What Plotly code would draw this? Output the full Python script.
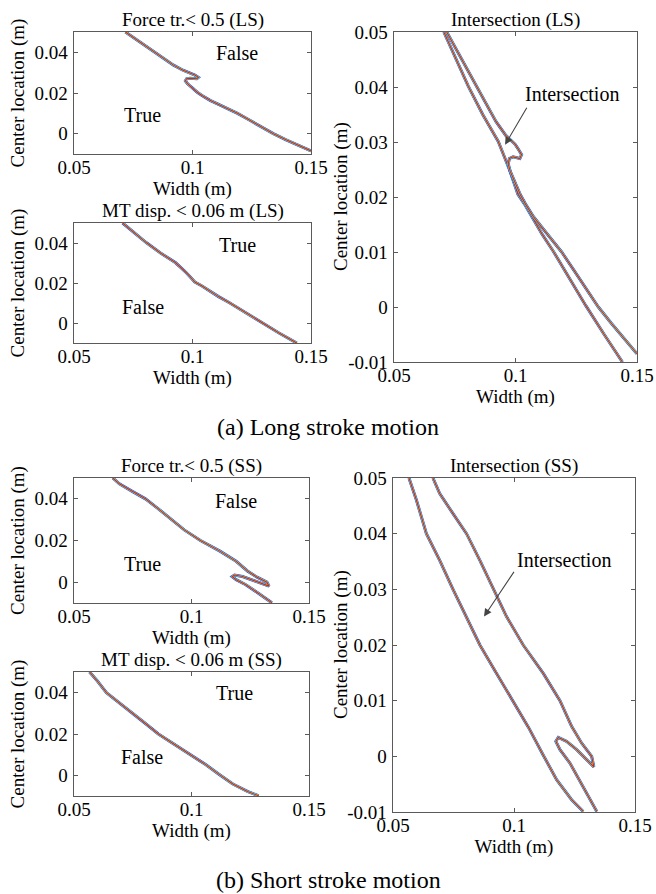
import plotly.graph_objects as go

W, H = 656, 894

# ---------------- data ----------------
# Long stroke: boundary of "Force tr. < 0.5"
ls_force_x = [0.0717, 0.0760, 0.0800, 0.0840, 0.0880, 0.0920, 0.0960, 0.0998, 0.1010, 0.1025,
              0.1018, 0.0990, 0.0975, 0.0970, 0.0978, 0.0992, 0.1005, 0.1020, 0.1040, 0.1074,
              0.1110, 0.1150, 0.1190, 0.1240, 0.1290, 0.1341, 0.1395, 0.1450, 0.1500]
ls_force_y = [0.0500, 0.0465, 0.0432, 0.0400, 0.0368, 0.0337, 0.0312, 0.0296, 0.0288, 0.0277,
              0.0270, 0.0273, 0.0270, 0.0260, 0.0247, 0.0232, 0.0218, 0.0204, 0.0188, 0.0164,
              0.0144, 0.0122, 0.0100, 0.0067, 0.0033, 0.0000, -0.0030, -0.0058, -0.0085]
# Long stroke: boundary of "MT disp. < 0.06 m"
ls_mt_x = [0.0705, 0.0750, 0.0806, 0.0865, 0.0929, 0.0975, 0.1010, 0.1040, 0.1067, 0.1110,
           0.1156, 0.1225, 0.1290, 0.1365, 0.1440]
ls_mt_y = [0.0500, 0.0455, 0.0401, 0.0350, 0.0301, 0.0250, 0.0205, 0.0185, 0.0164, 0.0132,
           0.0101, 0.0050, 0.0002, -0.0050, -0.0100]
# Short stroke: boundary of "Force tr. < 0.5"
ss_force_x = [0.0665, 0.0693, 0.0748, 0.0804, 0.0859, 0.0914, 0.0969, 0.1038, 0.1121, 0.1190,
              0.1238, 0.1279, 0.1321, 0.1330, 0.1300, 0.1259, 0.1217, 0.1183, 0.1173, 0.1190,
              0.1231, 0.1286, 0.1342]
ss_force_y = [0.0500, 0.0472, 0.0436, 0.0400, 0.0352, 0.0300, 0.0251, 0.0200, 0.0149, 0.0100,
              0.0054, 0.0024, 0.0000, -0.0019, -0.0006, 0.0012, 0.0027, 0.0034, 0.0027, 0.0012,
              -0.0012, -0.0054, -0.0099]
# Short stroke: boundary of "MT disp. < 0.06 m"
ss_mt_x = [0.0566, 0.0597, 0.0638, 0.0693, 0.0748, 0.0804, 0.0859, 0.0928, 0.0996, 0.1060,
           0.1121, 0.1176, 0.1238, 0.1286]
ss_mt_y = [0.0500, 0.0460, 0.0400, 0.0352, 0.0300, 0.0251, 0.0200, 0.0149, 0.0100, 0.0052,
           0.0002, -0.0042, -0.0078, -0.0099]

x_ticks = [0.05, 0.1, 0.15]
x_tick_text = ["0.05", "0.1", "0.15"]
y_ticks_small = [0, 0.02, 0.04]
y_tick_text_small = ["0", "0.02", "0.04"]
y_ticks_big = [-0.01, 0, 0.01, 0.02, 0.03, 0.04, 0.05]
y_tick_text_big = ["-0.01", "0", "0.01", "0.02", "0.03", "0.04", "0.05"]

curves = {
    "ls_force": (ls_force_x, ls_force_y),
    "ls_mt": (ls_mt_x, ls_mt_y),
    "ss_force": (ss_force_x, ss_force_y),
    "ss_mt": (ss_mt_x, ss_mt_y),
}

FONT = "Liberation Serif"


def px_x(px):
    return px / W


def px_y(py):
    return 1 - py / H


# panel boxes in pixels of the target picture: (left, right, top, bottom)
panels = [
    dict(box=(74, 311, 32, 154), title="Force tr.< 0.5 (LS)", curves=["ls_force"], big=False,
         labels=[("False", 0.1188, 0.0397), ("True", 0.0791, 0.0092)]),
    dict(box=(74, 311, 223, 343), title="MT disp. < 0.06 m (LS)", curves=["ls_mt"], big=False,
         labels=[("True", 0.1188, 0.0390), ("False", 0.0791, 0.0082)]),
    dict(box=(394, 637, 32, 362), title="Intersection (LS)", curves=["ls_mt", "ls_force"], big=True,
         labels=[("Intersection", 0.1231, 0.0387)],
         arrow=(0.1050, 0.0365, 0.0957, 0.0295)),
    dict(box=(74, 309, 478, 603), title="Force tr.< 0.5 (SS)", curves=["ss_force"], big=False,
         labels=[("False", 0.1188, 0.0390), ("True", 0.0790, 0.0087)]),
    dict(box=(74, 309, 672, 796), title="MT disp. < 0.06 m (SS)", curves=["ss_mt"], big=False,
         labels=[("True", 0.1185, 0.0400), ("False", 0.0788, 0.0090)]),
    dict(box=(393, 635, 478, 812), title="Intersection (SS)", curves=["ss_mt", "ss_force"], big=True,
         labels=[("Intersection", 0.1206, 0.0352)],
         arrow=(0.1004, 0.0334, 0.0876, 0.0251)),
]

stack = [("#1f3dff", 3.0), ("#22d0e0", 2.2), ("#d9d040", 1.6), ("#d0261c", 1.1)]

fig = go.Figure()
annotations = []
layout = {}
for i, p in enumerate(panels, start=1):
    l, r, t, b = p["box"]
    xa = "xaxis" if i == 1 else f"xaxis{i}"
    ya = "yaxis" if i == 1 else f"yaxis{i}"
    xr = "x" if i == 1 else f"x{i}"
    yr = "y" if i == 1 else f"y{i}"
    common = dict(showgrid=False, zeroline=False, showline=True, linecolor="#5a5a5a", linewidth=1.4,
                  mirror="ticks", ticks="inside", ticklen=4, tickcolor="#5a5a5a", automargin=False,
                  tickfont=dict(family=FONT, size=19, color="black"))
    layout[xa] = dict(common, domain=[px_x(l), px_x(r)], range=[0.05, 0.15], anchor=yr,
                      tickvals=x_ticks, ticktext=x_tick_text, ticklabelstandoff=-4,
                      title=dict(text="Width (m)", font=dict(family=FONT, size=19, color="black"),
                                 standoff=2))
    layout[ya] = dict(common, domain=[px_y(b), px_y(t)], range=[-0.01, 0.05], anchor=xr,
                      tickvals=y_ticks_big if p["big"] else y_ticks_small,
                      ticktext=y_tick_text_big if p["big"] else y_tick_text_small,
                      ticklabelstandoff=1,
                      title=dict(text="" if p["big"] else "Center location (m)",
                                 font=dict(family=FONT, size=19, color="black"),
                                 standoff=5))
    if p["big"]:
        annotations.append(dict(text="Center location (m)", textangle=-90, xref="paper",
                                yref="paper", x=px_x(341), y=px_y((t + b) / 2),
                                showarrow=False, xanchor="center", yanchor="middle",
                                font=dict(family=FONT, size=19, color="black")))
    for c in p["curves"]:
        cx, cy = curves[c]
        for col, wd in stack:
            fig.add_trace(go.Scatter(x=cx, y=cy, mode="lines", xaxis=xr, yaxis=yr,
                                     line=dict(color=col, width=wd), showlegend=False,
                                     hoverinfo="skip"))
    annotations.append(dict(text=p["title"], xref="paper", yref="paper",
                            x=px_x((l + r) / 2), y=px_y(t - 12), showarrow=False,
                            xanchor="center", yanchor="middle",
                            font=dict(family=FONT, size=19, color="black")))
    for txt, lx, ly in p["labels"]:
        annotations.append(dict(text=txt, x=lx, y=ly, xref=xr, yref=yr, showarrow=False,
                                font=dict(family=FONT, size=20, color="black")))
    if "arrow" in p:
        ax0, ay0, hx, hy = p["arrow"]
        annotations.append(dict(text="", x=hx, y=hy, ax=ax0, ay=ay0, xref=xr, yref=yr,
                                axref=xr, ayref=yr, showarrow=True, arrowhead=2,
                                arrowsize=1.4, arrowwidth=1.1, arrowcolor="#444444"))

annotations.append(dict(text="(a) Long stroke motion", xref="paper", yref="paper",
                        x=px_x(328), y=px_y(427), showarrow=False, yanchor="middle",
                        font=dict(family=FONT, size=24, color="black")))
annotations.append(dict(text="(b) Short stroke motion", xref="paper", yref="paper",
                        x=px_x(328), y=px_y(880), showarrow=False, yanchor="middle",
                        font=dict(family=FONT, size=24, color="black")))

fig.update_layout(width=W, height=H, margin=dict(l=0, r=0, t=0, b=0, autoexpand=False),
                  paper_bgcolor="white", plot_bgcolor="white", hovermode=False,
                  annotations=annotations, **layout)

# remove the browser's default page margin so the figure sits at the window's top-left corner
fig.write_html("out.html", config={"displayModeBar": False, "staticPlot": True},
               post_script="document.body.style.margin='0';document.body.style.overflow='hidden';")
